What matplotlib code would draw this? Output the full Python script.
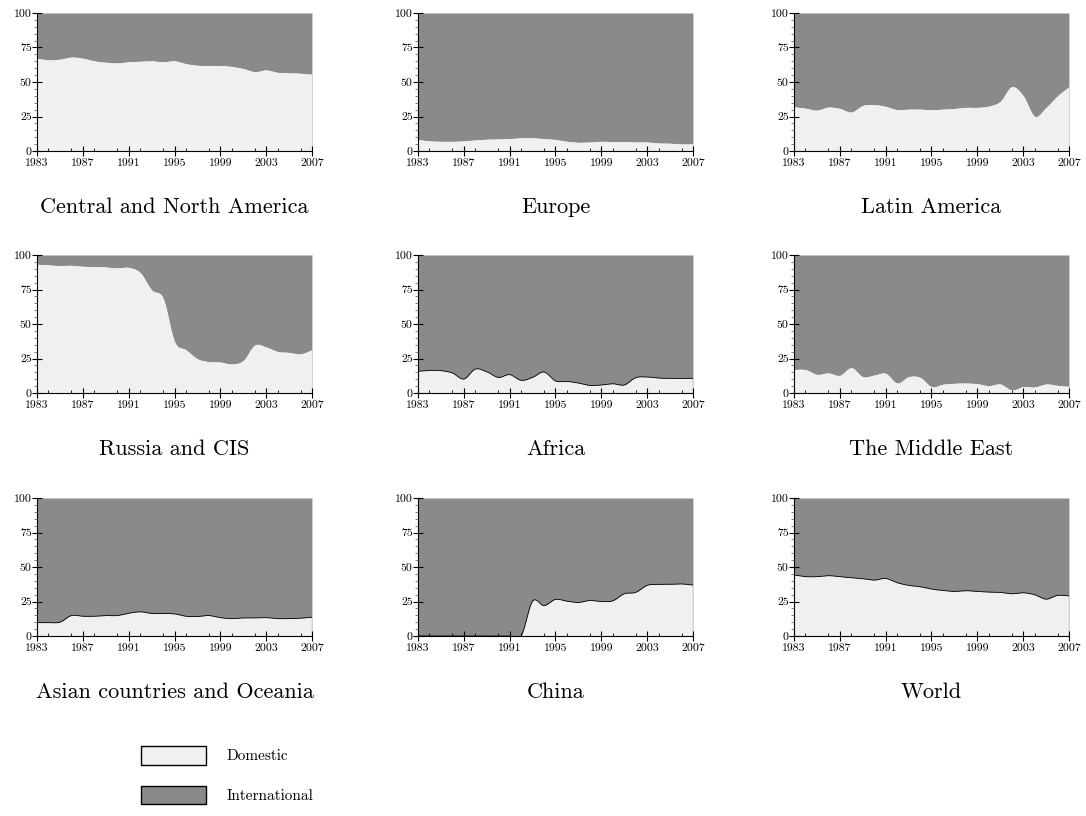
import numpy as np
import matplotlib
matplotlib.use("Agg")
import matplotlib.pyplot as plt
from matplotlib.patches import Patch
from matplotlib.ticker import MultipleLocator, FixedLocator

plt.rcParams['font.family'] = ['cmr10', 'DejaVu Serif']
plt.rcParams['axes.formatter.use_mathtext'] = True

years = list(range(1983, 2008))

central_north_america = [67.2, 66.0, 66.5, 68.0, 67.2, 65.3, 64.3, 63.8, 64.6, 65.0, 65.3, 64.6, 65.3,
                         63.3, 62.1, 61.9, 61.9, 61.2, 59.7, 57.5, 58.7, 57.0, 56.6, 56.3, 55.6]
europe = [8.3, 7.3, 7.0, 7.0, 7.3, 8.0, 8.5, 8.7, 9.0, 9.5, 9.5, 9.0, 8.3,
          7.0, 6.3, 6.5, 7.0, 6.8, 6.8, 6.5, 6.5, 5.8, 5.6, 5.1, 5.1]
latin_america = [32.0, 31.0, 29.6, 31.8, 30.8, 28.2, 33.0, 33.5, 32.3, 30.0, 30.3, 30.3, 29.9,
                 30.3, 30.8, 31.6, 31.6, 32.5, 36.0, 46.6, 40.0, 25.2, 31.6, 40.0, 46.6]
russia_cis = [93.3, 92.8, 92.3, 92.5, 91.8, 91.6, 91.3, 90.6, 91.0, 87.2, 74.7, 68.7, 37.3,
              31.3, 24.8, 22.7, 22.4, 21.0, 23.6, 34.7, 33.3, 30.1, 29.4, 28.4, 31.3]
africa = [15.7, 16.4, 16.2, 14.5, 10.1, 17.3, 15.4, 11.3, 13.3, 9.2, 11.3, 15.2, 8.7,
          8.4, 7.2, 5.5, 5.8, 6.7, 5.8, 11.1, 11.6, 10.8, 10.6, 10.6, 10.6]
middle_east = [17.1, 16.9, 13.5, 14.5, 12.8, 18.3, 11.8, 13.0, 14.2, 7.2, 11.8, 11.3, 4.6,
               6.3, 7.0, 7.2, 6.7, 5.3, 6.5, 2.2, 4.6, 4.3, 6.5, 5.5, 4.8]
asia_oceania = [9.7, 9.7, 10.0, 14.8, 14.3, 14.3, 14.8, 14.8, 16.5, 17.5, 16.3, 16.3, 16.0,
                14.3, 14.1, 14.8, 13.3, 12.6, 13.1, 13.1, 13.3, 12.6, 12.6, 12.9, 13.6]
china = [0.0, 0.0, 0.0, 0.0, 0.0, 0.0, 0.0, 0.0, 0.0, 0.0, 25.2, 22.0, 26.5,
         25.2, 24.3, 25.7, 25.0, 25.5, 30.6, 31.6, 36.7, 37.4, 37.4, 37.7, 36.9]
world = [44.2, 43.0, 43.0, 43.7, 43.0, 42.2, 41.5, 40.5, 41.7, 38.6, 36.7, 35.7, 34.0,
         33.0, 32.3, 32.8, 32.3, 31.8, 31.6, 30.6, 31.3, 29.9, 26.7, 29.4, 29.1]

titles = ["Central and North America", "Europe", "Latin America",
          "Russia and CIS", "Africa", "The Middle East",
          "Asian countries and Oceania", "China", "World"]
series = [central_north_america, europe, latin_america,
          russia_cis, africa, middle_east,
          asia_oceania, china, world]
outlined = [False, False, False, False, True, False, True, True, True]

x_ticks = [1983, 1987, 1991, 1995, 1999, 2003, 2007]
y_ticks = [0, 25, 50, 75, 100]
legend_labels = ["Domestic", "International"]

DOM = "#f0f0f0"
INTL = "#8a8a8a"


def smooth(xv, yv, n=20):
    """Cubic Hermite rendering of annual points (display only)."""
    xv = np.asarray(xv, float)
    yv = np.asarray(yv, float)
    m = np.gradient(yv, xv)
    xs, ys = [], []
    for i in range(len(xv) - 1):
        h = xv[i + 1] - xv[i]
        t = np.linspace(0, 1, n, endpoint=False)
        h00 = 2 * t**3 - 3 * t**2 + 1
        h10 = t**3 - 2 * t**2 + t
        h01 = -2 * t**3 + 3 * t**2
        h11 = t**3 - t**2
        xs.append(xv[i] + t * h)
        ys.append(h00 * yv[i] + h10 * h * m[i] + h01 * yv[i + 1] + h11 * h * m[i + 1])
    xs.append([xv[-1]])
    ys.append([yv[-1]])
    return np.concatenate(xs), np.concatenate(ys)


W, H = 1086, 816
fig = plt.figure(figsize=(W / 100, H / 100), dpi=100)

col_left = [37, 418, 794]
col_w = 275
row_top = [13, 255, 498]
row_h = 138

for idx, (title, vals, outl) in enumerate(zip(titles, series, outlined)):
    r, c = divmod(idx, 3)
    left = col_left[c] / W
    bottom = 1 - (row_top[r] + row_h) / H
    ax = fig.add_axes([left, bottom, col_w / W, row_h / H])
    xs, ys = smooth(years, vals)
    ax.fill_between(xs, ys, 100, color=INTL, lw=0)
    ax.fill_between(xs, 0, ys, color=DOM, lw=0)
    if outl:
        ax.plot(xs, ys, color="black", lw=0.6)
        ax.plot([years[-1], years[-1]], [0, vals[-1]], color="black", lw=0.8)
    ax.set_xlim(years[0], years[-1])
    ax.set_ylim(0, 100)
    ax.spines['top'].set_visible(False)
    ax.spines['right'].set_color("#cfcfcf")
    ax.spines['right'].set_linewidth(0.6)
    ax.spines['left'].set_linewidth(0.8)
    ax.spines['bottom'].set_linewidth(0.8)
    ax.xaxis.set_major_locator(FixedLocator(x_ticks))
    ax.xaxis.set_minor_locator(MultipleLocator(2))
    ax.yaxis.set_major_locator(FixedLocator(y_ticks))
    ax.yaxis.set_minor_locator(MultipleLocator(5))
    ax.set_xticklabels([str(v) for v in x_ticks])
    ax.set_yticklabels([str(v) for v in y_ticks])
    ax.tick_params(axis='x', which='major', direction='inout', length=6.5, width=0.8,
                   labelsize=8.5, pad=2)
    ax.tick_params(axis='x', which='minor', direction='in', length=2.5, width=0.6)
    ax.tick_params(axis='y', which='major', direction='inout', length=6.5, width=0.8,
                   labelsize=8.5, pad=0.5)
    ax.tick_params(axis='y', which='minor', direction='out', length=2.2, width=0.6, color="#666666")
    ax.set_axisbelow(False)
    cx = (col_left[c] + col_w / 2) / W
    ty = 1 - (row_top[r] + row_h + 62) / H
    fig.text(cx, ty, title, ha='center', va='baseline', fontsize=16)

handles = [Patch(facecolor=DOM, edgecolor="black", lw=1.0),
           Patch(facecolor=INTL, edgecolor="black", lw=1.0)]
fig.legend(handles, legend_labels, loc='upper left',
           bbox_to_anchor=(141 / W, 1 - 746 / H), frameon=False, fontsize=11,
           handlelength=4.25, handleheight=1.5, handletextpad=1.37, labelspacing=1.37,
           borderpad=0, borderaxespad=0)

fig.savefig("out.png", dpi=100)
